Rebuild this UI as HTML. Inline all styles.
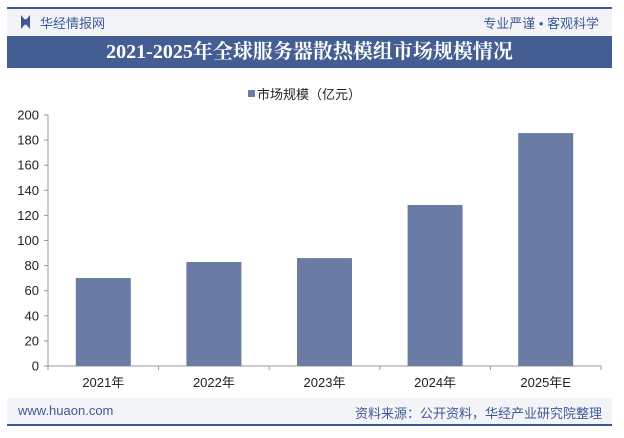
<!DOCTYPE html>
<html><head><meta charset="utf-8"><style>
body{margin:0;width:624px;height:438px;background:#fff;position:relative;overflow:hidden;font-family:"Liberation Sans","Noto Sans CJK SC",sans-serif}
.abs{position:absolute}
</style></head><body>
<div class="abs" style="left:7px;top:7px;width:605px;height:2px;background:#3d5a96"></div>
<div class="abs" style="left:7px;top:9px;width:605px;height:27px;background:#f3f4f8"></div>
<div class="abs" style="left:21px;top:15px;width:9px;height:14px;background:#3d5a96;clip-path:polygon(0 0,40% 30%,60% 30%,100% 0,100% 100%,60% 70%,40% 70%,0 100%)"></div>
<div class="abs" style="left:40px;top:13px;font-size:13px;color:#3d5a96">华经情报网</div>
<div class="abs" style="right:25px;top:13px;font-size:13px;color:#3d5a96">专业严谨 • 客观科学</div>
<div class="abs" style="left:7px;top:36px;width:605px;height:32px;background:#445e93;color:#fff;font-family:'Liberation Serif','Noto Serif CJK SC',serif;font-weight:bold;font-size:20px;line-height:32px;text-align:center">2021-2025年全球服务器散热模组市场规模情况</div>
<div class="abs" style="left:248px;top:84px;font-size:13px;color:#222"><span style="display:inline-block;width:7px;height:7px;background:#6a7ca3;margin-right:2px;vertical-align:2px"></span>市场规模（亿元）</div>
<svg class="abs" style="left:0;top:0" width="624" height="438" id="chart"></svg>
<div class="abs" style="left:7px;top:398px;width:605px;height:26px;background:#f3f4f8"></div>
<div class="abs" style="left:7px;top:424px;width:605px;height:1.5px;background:#3d5a96"></div>
<div class="abs" style="left:18px;top:403px;font-size:13px;color:#3d5a96">www.huaon.com</div>
<div class="abs" style="right:22px;top:403px;font-size:13px;color:#3d5a96">资料来源：公开资料，华经产业研究院整理</div>
<script>
const categories=["2021年","2022年","2023年","2024年","2025年E"];
const values=[70.1,82.9,86,128.3,185.6];
const yTicks=[0,20,40,60,80,100,120,140,160,180,200];
const svg=document.getElementById('chart');const NS='http://www.w3.org/2000/svg';
const x0=48,x1=601,y0=366,y1=115,yMax=200;
const ys=v=>y0-(v/yMax)*(y0-y1);
const cw=(x1-x0)/categories.length;
function mk(t,a){const e=document.createElementNS(NS,t);for(const k in a)e.setAttribute(k,a[k]);svg.appendChild(e);return e;}
const ax=mk('line',{x1:x0,y1:y1,x2:x0,y2:y0,stroke:'#999'});


const bx=mk('line',{x1:x0,y1:y0,x2:x1,y2:y0,stroke:'#999'});


yTicks.forEach(t=>{
 mk('line',{x1:x0-4,y1:ys(t),x2:x0,y2:ys(t),stroke:'#999'});
 const tx=mk('text',{x:x0-9,y:ys(t)+4.5,'text-anchor':'end','font-size':'13',fill:'#222'});
 tx.textContent=t;
 
 
});
for(let i=0;i<=categories.length;i++)mk('line',{x1:x0+i*cw,y1:y0,x2:x0+i*cw,y2:y0+4,stroke:'#999'});
categories.forEach((c,i)=>{
 const cx=x0+cw*(i+0.5),bw=55;
 const r=mk('rect',{x:cx-bw/2,y:ys(values[i]),width:bw,height:y0-ys(values[i]),fill:'#6a7ca3'});
 
 
 const tx=mk('text',{x:cx,y:387,'text-anchor':'middle','font-size':'13',fill:'#222'});
 tx.textContent=c;
 
 
});
</script>
</body></html>
